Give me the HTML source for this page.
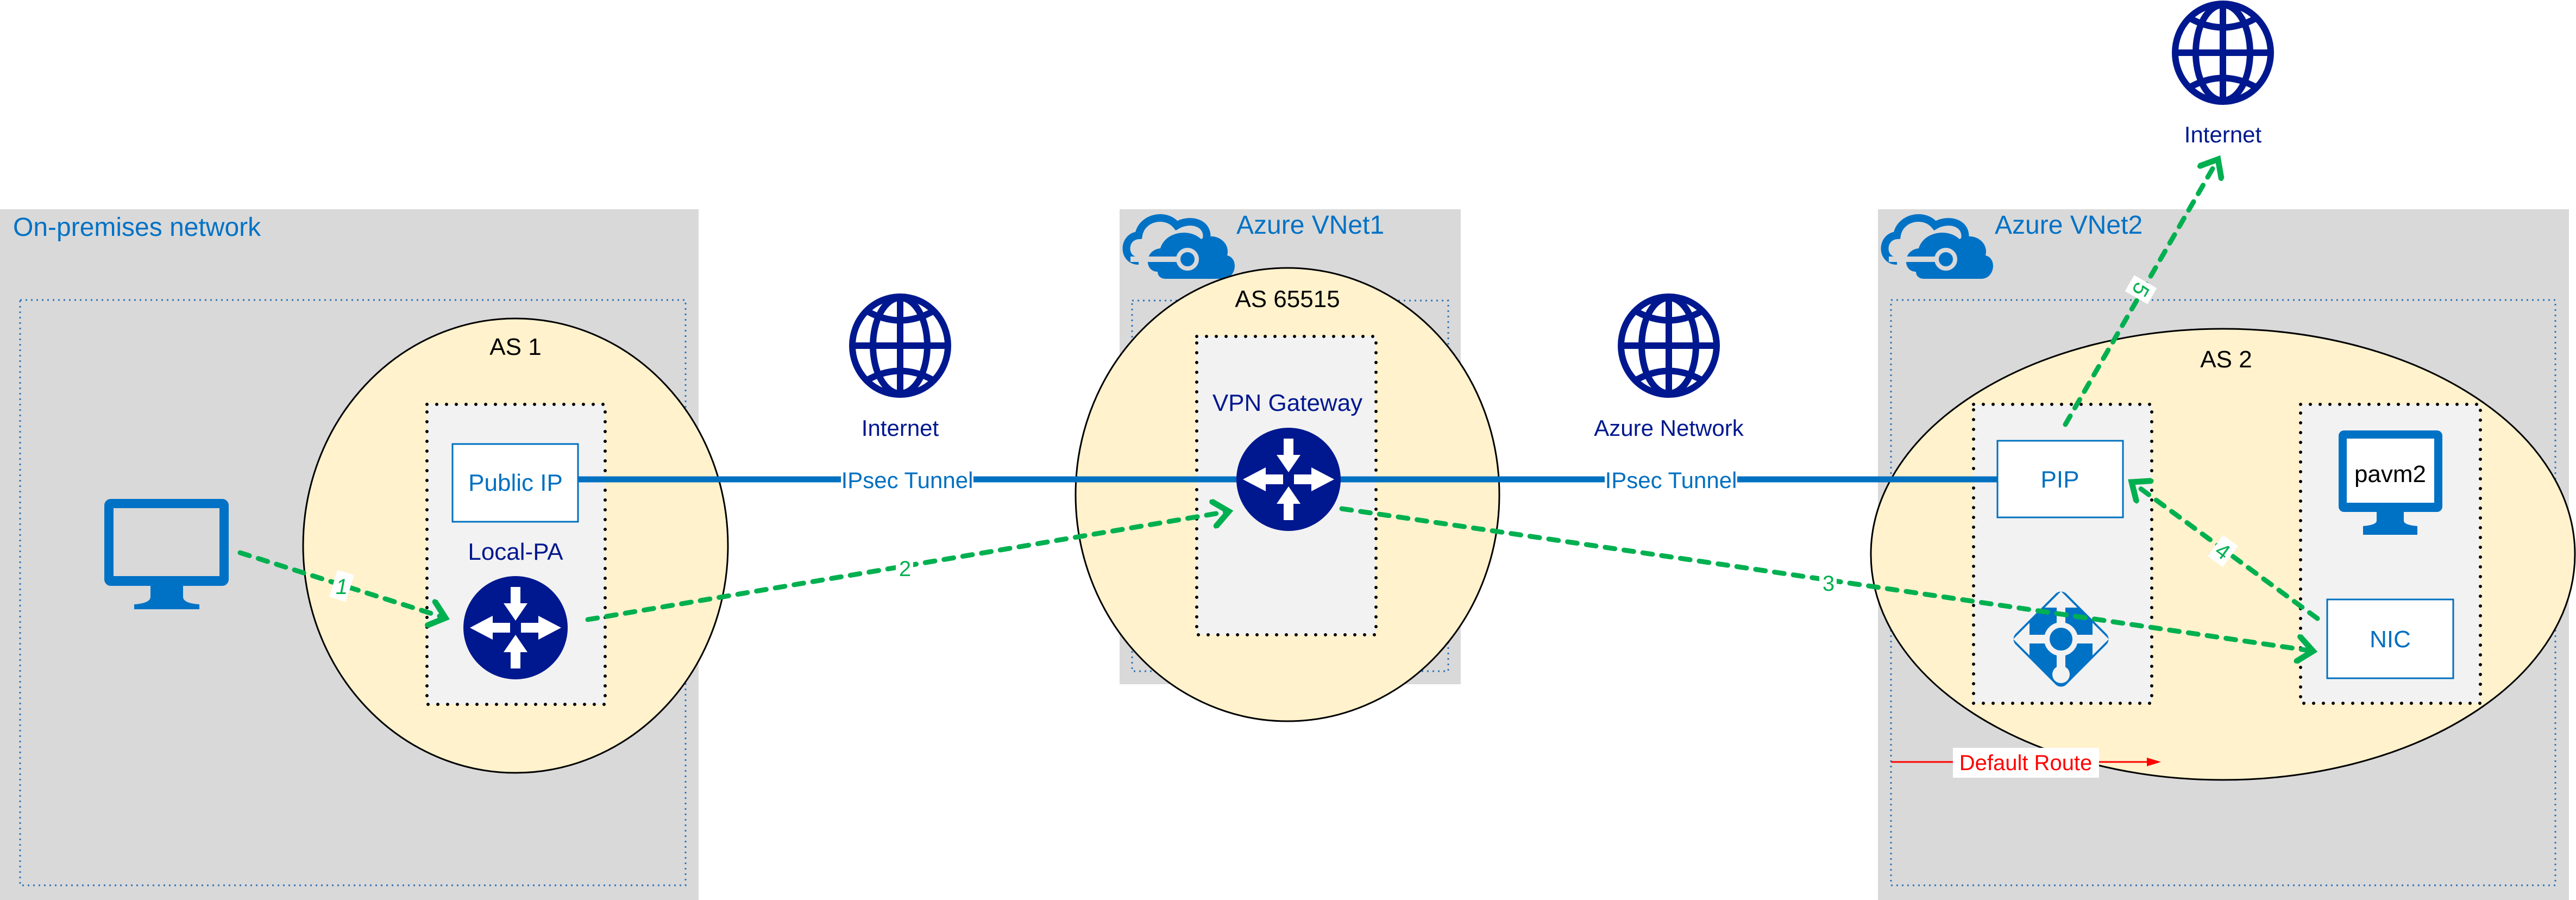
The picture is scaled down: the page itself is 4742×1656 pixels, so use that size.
<!DOCTYPE html>
<html><head><meta charset="utf-8"><style>
html,body{margin:0;padding:0;background:#fff}
svg{display:block}
text{font-family:"Liberation Sans",sans-serif}
</style></head><body>
<svg width="4742" height="1656" viewBox="0 0 4742 1656" xmlns="http://www.w3.org/2000/svg">
<defs>
<marker id="ah" markerWidth="6" markerHeight="6" refX="4" refY="3" orient="auto" markerUnits="strokeWidth">
<path d="M1,0.5 L4,3 L1,5.5" fill="none" stroke="#00b050" stroke-width="1.2" stroke-linecap="round"/>
</marker>
<g id="router">
<ellipse cx="0" cy="0" rx="96" ry="95" fill="#00188f"/>
<path d="M-9,-75 h18 v30 h13 l-22,32 l-22,-32 h13z" fill="#fff"/>
<path d="M-9,75 h18 v-30 h13 l-22,-32 l-22,32 h13z" fill="#fff"/>
<path d="M-10,-9 v18 h-32 v13 l-42,-22 l42,-22 v13z" fill="#fff"/>
<path d="M10,-9 v18 h32 v13 l42,-22 l-42,-22 v13z" fill="#fff"/>
</g>
<g id="globe" fill="none" stroke="#00188f" stroke-width="12">
<ellipse cx="0" cy="0" rx="88" ry="90"/>
<ellipse cx="0" cy="0" rx="50" ry="88"/>
<line x1="0" y1="-90" x2="0" y2="90"/>
<line x1="-88" y1="0" x2="88" y2="0"/>
<path d="M-60,-63 Q0,-30 60,-63"/>
<path d="M-60,63 Q0,30 60,63"/>
</g>
<g id="cloud">
<path d="M35,95 C5,95 5,50 35,48 C40,15 85,5 105,30 C130,15 165,25 160,55" fill="none" stroke="#0072c6" stroke-width="14"/>
<path d="M70,115 C45,115 45,75 75,72 C85,40 130,35 150,55 C175,40 205,60 198,85 C220,90 215,128 190,128 L85,128 C75,128 70,122 70,115Z" fill="#0072c6"/>
<path d="M20,92 L110,92" stroke="#d9d9d9" stroke-width="10"/>
<circle cx="125" cy="92" r="17" fill="#0072c6" stroke="#d9d9d9" stroke-width="8"/>
</g>
<g id="monitor">
<rect x="0" y="0" width="229" height="160" rx="12" fill="#0072c6"/>
<rect x="17" y="17" width="195" height="125" fill="#d9d9d9"/>
<path d="M85,160 h60 v20 q0,12 30,14 v9 h-120 v-9 q30,-2 30,-14z" fill="#0072c6"/>
</g>
</defs>

<rect x="0" y="385" width="1286" height="1271" fill="#d9d9d9"/>
<rect x="2061" y="385" width="628" height="874" fill="#d9d9d9"/>
<rect x="3457" y="385" width="1272" height="1271" fill="#d9d9d9"/>

<g fill="none" stroke="#2e75b6" stroke-width="3" stroke-dasharray="3 7">
<rect x="37" y="552" width="1225" height="1077"/>
<rect x="2084" y="553" width="582" height="682"/>
<rect x="3481" y="552" width="1223" height="1077"/>
</g>

<text x="24" y="434" font-size="48" fill="#0072c6">On-premises network</text>
<use href="#cloud" x="2061" y="385"/>
<text x="2276" y="430" font-size="48" fill="#0072c6">Azure VNet1</text>
<use href="#cloud" x="3457" y="385"/>
<text x="3672" y="430" font-size="48" fill="#0072c6">Azure VNet2</text>

<g fill="#fff2cc" stroke="#000" stroke-width="3">
<ellipse cx="949" cy="1004" rx="391" ry="418"/>
<ellipse cx="2370" cy="910" rx="390" ry="417"/>
<ellipse cx="4092" cy="1020" rx="648" ry="415"/>
</g>
<g font-size="44" fill="#000" text-anchor="middle">
<text x="949" y="653">AS 1</text>
<text x="2370" y="565">AS 65515</text>
<text x="4098" y="676">AS 2</text>
</g>

<g fill="#f2f2f2" stroke="#000" stroke-width="6" stroke-dasharray="0 18" stroke-linecap="round">
<rect x="786" y="744" width="328" height="552"/>
<rect x="2203" y="619" width="330" height="549"/>
<rect x="3633" y="744" width="328" height="550"/>
<rect x="4235" y="744" width="331" height="550"/>
</g>

<line x1="1064" y1="882" x2="3677" y2="882" stroke="#0070c0" stroke-width="11"/>
<rect x="1548" y="858" width="244" height="50" fill="#fff"/>
<text x="1670" y="898" font-size="42" fill="#0070c0" text-anchor="middle">IPsec Tunnel</text>
<rect x="2954" y="858" width="244" height="50" fill="#fff"/>
<text x="3076" y="898" font-size="42" fill="#0070c0" text-anchor="middle">IPsec Tunnel</text>

<rect x="833" y="817" width="231" height="143" fill="#fff" stroke="#0070c0" stroke-width="3"/>
<text x="949" y="903" font-size="44" fill="#0070c0" text-anchor="middle">Public IP</text>
<text x="949" y="1030" font-size="44" fill="#00188f" text-anchor="middle">Local-PA</text>
<use href="#router" x="949" y="1155"/>

<text x="2370" y="756" font-size="44" fill="#00188f" text-anchor="middle">VPN Gateway</text>
<use href="#router" x="2372" y="882"/>

<rect x="3677" y="811" width="231" height="141" fill="#fff" stroke="#0070c0" stroke-width="3"/>
<text x="3792" y="897" font-size="44" fill="#0070c0" text-anchor="middle">PIP</text>
<rect x="4284" y="1103" width="232" height="145" fill="#fff" stroke="#0070c0" stroke-width="3"/>
<text x="4400" y="1191" font-size="44" fill="#0070c0" text-anchor="middle">NIC</text>

<rect x="4305" y="792" width="191" height="150" rx="10" fill="#0072c6"/>
<rect x="4320" y="807" width="161" height="118" fill="#fff"/>
<path d="M4375,942 h50 v16 q0,8 25,10 v16 h-100 v-16 q25,-2 25,-10z" fill="#0072c6"/>
<text x="4400" y="887" font-size="44" fill="#000" text-anchor="middle">pavm2</text>

<g transform="translate(3794,1176)">
<rect x="-66" y="-66" width="132" height="132" rx="14" fill="#0072c6" transform="rotate(45)"/>
<path d="M-8,-20 v-38 h-22 l30,-30 l30,30 h-22 v38z" fill="#f2f2f2"/>
<path d="M-20,-8 h-38 v-22 l-30,30 l30,30 v-22 h38z" fill="#f2f2f2"/>
<path d="M20,-8 h38 v-22 l30,30 l-30,30 v-22 h-38z" fill="#f2f2f2"/>
<rect x="-8" y="20" width="16" height="45" fill="#f2f2f2"/>
<circle cx="0" cy="65" r="16" fill="#f2f2f2"/>
<circle cx="0" cy="0" r="26" fill="#0072c6" stroke="#f2f2f2" stroke-width="10"/>
</g>

<use href="#monitor" x="192" y="918"/>

<use href="#globe" x="1657" y="636"/>
<text x="1657" y="802" font-size="42" fill="#00188f" text-anchor="middle">Internet</text>
<use href="#globe" x="3072" y="636"/>
<text x="3072" y="802" font-size="42" fill="#00188f" text-anchor="middle">Azure Network</text>
<use href="#globe" x="4092" y="97"/>
<text x="4092" y="262" font-size="42" fill="#00188f" text-anchor="middle">Internet</text>

<line x1="3481" y1="1402" x2="3960" y2="1402" stroke="#ff0000" stroke-width="3"/>
<path d="M3978,1402 l-26,-8 v16z" fill="#ff0000"/>
<rect x="3595" y="1376" width="269" height="55" fill="#fff"/>
<text x="3729" y="1417" font-size="40" fill="#ff0000" text-anchor="middle">Default Route</text>

<g fill="none" stroke="#00b050" stroke-width="9" stroke-dasharray="18 17" stroke-linecap="round" marker-end="url(#ah)">
<path d="M442,1017 L820,1137"/>
<path d="M1082,1140 L2262,941"/>
<path d="M2470,936 L4258,1198"/>
<path d="M4266,1138 L3924,887"/>
<path d="M3802,781 L4083,293"/>
</g>
<g font-size="40" fill="#00b050" text-anchor="middle">
<rect x="613" y="1052" width="32" height="52" fill="#fff" transform="rotate(17 629 1078)"/>
<text x="629" y="1093" font-style="italic">1</text>
<rect x="1649" y="1022" width="32" height="48" fill="#fff"/>
<text x="1666" y="1060">2</text>
<rect x="3349" y="1049" width="32" height="48" fill="#fff"/>
<text x="3366" y="1087">3</text>
<rect x="4075" y="990" width="34" height="48" fill="#fff" transform="rotate(36 4092 1014)"/>
<text x="4092" y="1028" transform="rotate(36 4092 1014)">4</text>
<rect x="3924" y="509" width="34" height="48" fill="#fff" transform="rotate(-60 3941 533)"/>
<text x="3941" y="547" transform="rotate(120 3941 533)">5</text>
</g>
</svg>
</body></html>
